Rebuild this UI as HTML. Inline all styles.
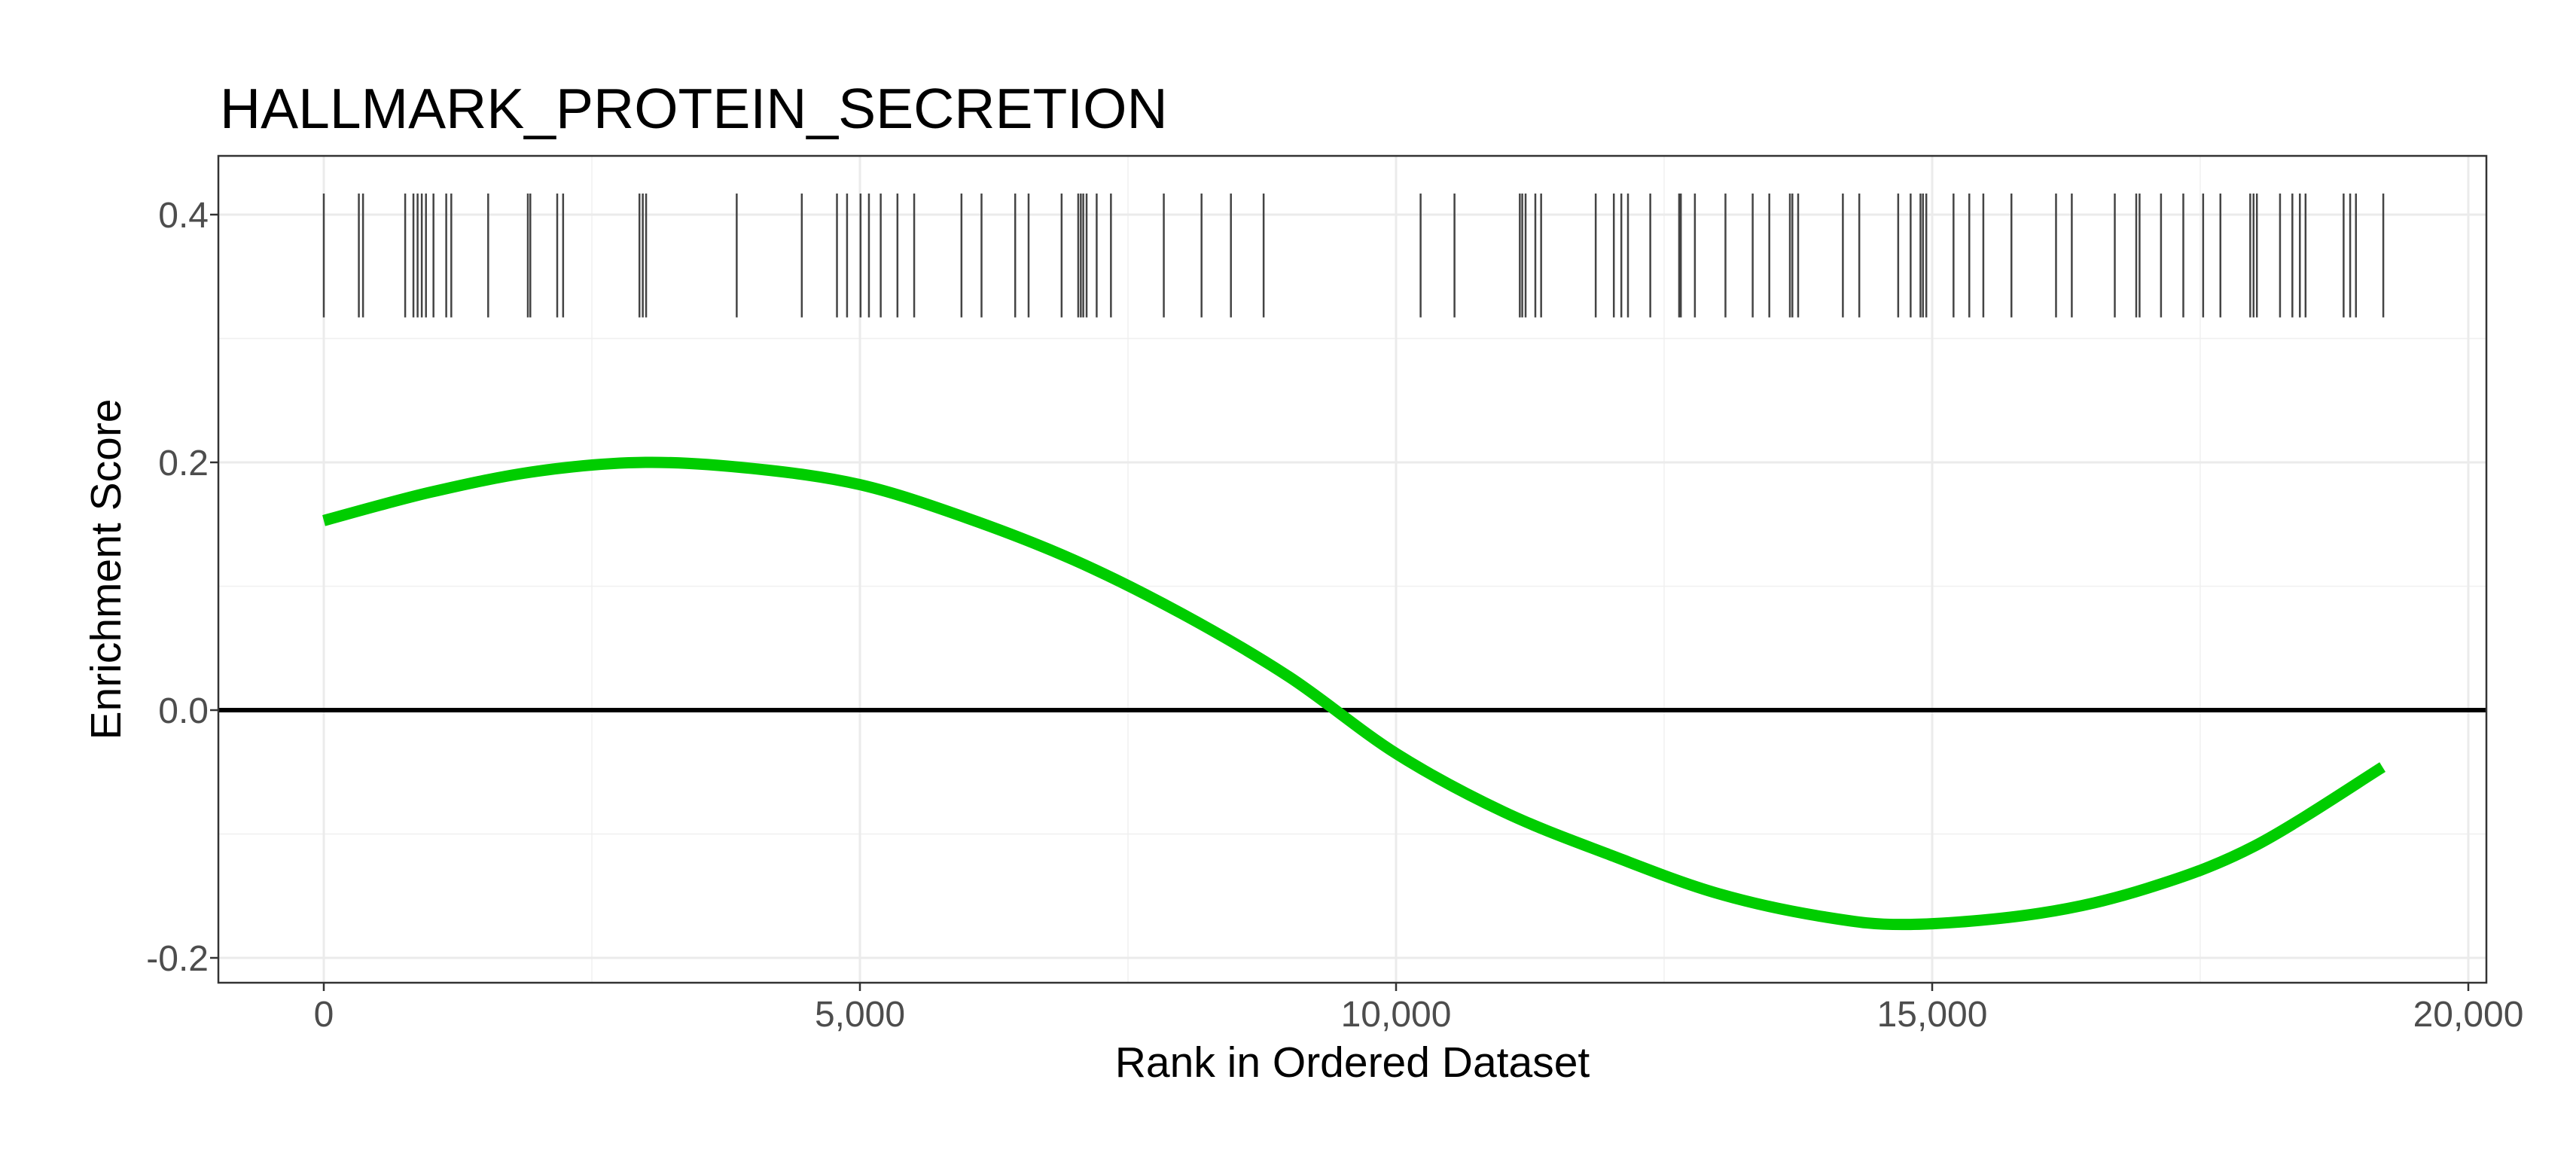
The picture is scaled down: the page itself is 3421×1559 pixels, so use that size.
<!DOCTYPE html>
<html><head><meta charset="utf-8"><style>
html,body{margin:0;padding:0;background:#fff}
svg{display:block;font-family:"Liberation Sans",sans-serif}
</style></head><body>
<svg id="chart" width="3421" height="1559" viewBox="0 0 3421 1559" xmlns="http://www.w3.org/2000/svg">
<rect width="3421" height="1559" fill="#fff"/>
<text x="292" y="170" font-size="75" fill="#000">HALLMARK_PROTEIN_SECRETION</text>
<g id="grid"></g>
<g id="marks"></g>
<rect x="290" y="207" width="3012" height="1098" fill="none" stroke="#333" stroke-width="2.5"/>
<g id="axes"></g>
<text x="1796" y="1430" font-size="57" text-anchor="middle" fill="#000">Rank in Ordered Dataset</text>
<text transform="translate(160,756) rotate(-90)" font-size="57" text-anchor="middle" fill="#000">Enrichment Score</text>
</svg>
<script>
const xTicks = [0, 5000, 10000, 15000, 20000];
const xTickLabels = ["0", "5,000", "10,000", "15,000", "20,000"];
const yTicks = [0.4, 0.2, 0.0, -0.2];
const yTickLabels = ["0.4", "0.2", "0.0", "-0.2"];
const hitRanks = [0,327,366,759,836,875,914,953,1023,1142,1189,1533,1903,1926,2177,2232,2944,2975,3006,3851,4458,4786,4880,5006,5084,5194,5350,5506,5947,6134,6448,6573,6881,7036,7060,7083,7114,7208,7341,7834,8186,8460,8765,
10229,10545,11154,11177,11208,11299,11353,11862,12031,12101,12163,12371,12640,12656,12787,13072,13326,13481,13673,13696,13750,14167,14320,14683,14799,14891,14914,14945,15199,15346,15477,15739,16155,16302,16703,16903,16934,17134,17342,17527,17688,17966,17997,18028,18244,18359,18429,18482,18837,18898,18952,19207];
const curveRanks = [0,1000,2000,3000,4000,5000,6000,7000,8000,9000,10000,11000,12000,13000,14000,14800,16000,17000,18000,19200];
const curveScores = [0.153,0.176,0.193,0.2,0.195,0.182,0.155,0.121,0.078,0.027,-0.035,-0.082,-0.117,-0.148,-0.167,-0.173,-0.164,-0.144,-0.110,-0.046];
const hitTop = 0.417, hitBottom = 0.317;

const NS = "http://www.w3.org/2000/svg";
const X0 = 430, XPER = 712/5000;
const Y0 = 943, YPER = 1645;
const xs = v => X0 + v*XPER;
const ys = v => Y0 - v*YPER;
const PL = 290, PR = 3302, PT = 207, PB = 1305;
function mk(tag, attrs, parent){const e=document.createElementNS(NS,tag);for(const k in attrs)e.setAttribute(k,attrs[k]);parent.appendChild(e);return e;}
const grid = document.getElementById('grid'), marks = document.getElementById('marks'), axes = document.getElementById('axes');

for (let i=0;i<xTicks.length-1;i++){const v=(xTicks[i]+xTicks[i+1])/2;
  const l=mk('line',{x1:xs(v),x2:xs(v),y1:PT,y2:PB,stroke:'#f0f0f0','stroke-width':1.5},grid);
  
  }
for (let i=0;i<yTicks.length-1;i++){const v=(yTicks[i]+yTicks[i+1])/2;
  const l=mk('line',{x1:PL,x2:PR,y1:ys(v),y2:ys(v),stroke:'#f0f0f0','stroke-width':1.5},grid);
  
  }
xTicks.forEach((v,i)=>{
  const l=mk('line',{x1:xs(v),x2:xs(v),y1:PT,y2:PB,stroke:'#ebebeb','stroke-width':3},grid);
  
  
  const t=mk('line',{x1:xs(v),x2:xs(v),y1:PB,y2:PB+11,stroke:'#333','stroke-width':2.5},axes);
  
  
  const tx=mk('text',{x:xs(v),y:1363,'font-size':48,'text-anchor':'middle',fill:'#4d4d4d'},axes);
  tx.textContent=xTickLabels[i];
  
  
});
yTicks.forEach((v,i)=>{
  const l=mk('line',{x1:PL,x2:PR,y1:ys(v),y2:ys(v),stroke:'#ebebeb','stroke-width':3},grid);
  
  
  const t=mk('line',{x1:PL-11,x2:PL,y1:ys(v),y2:ys(v),stroke:'#333','stroke-width':2.5},axes);
  
  
  const tx=mk('text',{x:277,y:ys(v)+17,'font-size':48,'text-anchor':'end',fill:'#4d4d4d'},axes);
  tx.textContent=yTickLabels[i];
  
  
});
hitRanks.forEach(r=>{
  const l=mk('line',{x1:xs(r),x2:xs(r),y1:ys(hitTop),y2:ys(hitBottom),stroke:'#444','stroke-width':2.5},marks);
  
  
});
const z=mk('line',{x1:PL,x2:PR,y1:ys(0),y2:ys(0),stroke:'#000','stroke-width':6},marks);


const pts=curveRanks.map((r,i)=>[xs(r),ys(curveScores[i])]);
let d=`M${pts[0][0]},${pts[0][1]}`;
for(let i=0;i<pts.length-1;i++){
  const p0=pts[Math.max(0,i-1)],p1=pts[i],p2=pts[i+1],p3=pts[Math.min(pts.length-1,i+2)];
  const c1=[p1[0]+(p2[0]-p0[0])/6,p1[1]+(p2[1]-p0[1])/6],c2=[p2[0]-(p3[0]-p1[0])/6,p2[1]-(p3[1]-p1[1])/6];
  d+=` C${c1[0]},${c1[1]} ${c2[0]},${c2[1]} ${p2[0]},${p2[1]}`;
}
const c=mk('path',{d:d,fill:'none',stroke:'#00cd00','stroke-width':15,'stroke-linejoin':'round'},marks);


</script>
</body></html>
